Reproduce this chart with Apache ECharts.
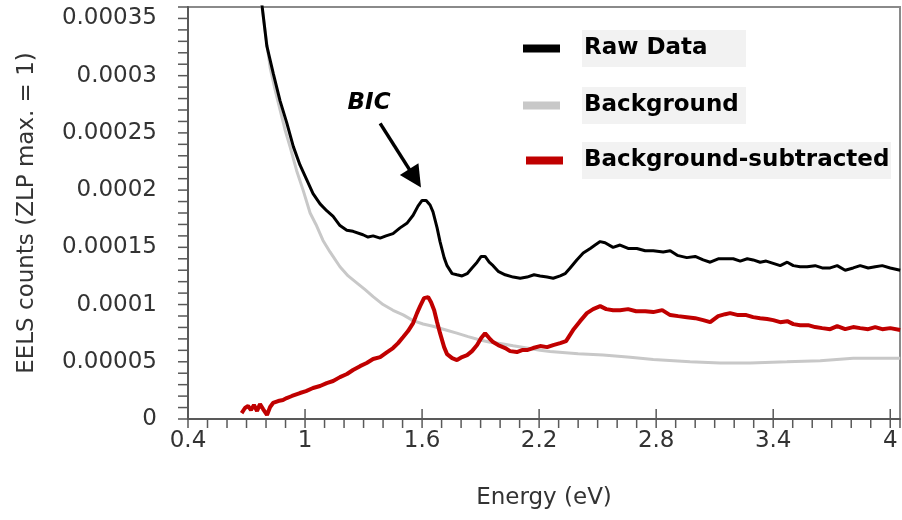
<!DOCTYPE html>
<html>
<head>
<meta charset="utf-8">
<script src="https://cdn.jsdelivr.net/npm/echarts@6.0.0/dist/echarts.min.js"></script>
<style>html,body{margin:0;padding:0;background:#fff;}#c{width:902px;height:520px;}</style>
</head>
<body>
<div id="c"></div>
<script>
// ---- data (energy in eV, counts normalised to ZLP max = 1) ----
const seriesNames = ['Raw Data', 'Background', 'Background-subtracted'];

const rawEnergy = [0.770,0.804,0.837,0.872,0.906,0.940,0.974,1.009,1.041,1.077,1.111,1.144,1.179,1.214,1.246,1.297,1.323,1.349,1.385,1.415,1.451,1.487,1.522,1.554,1.579,1.600,1.621,1.641,1.656,1.677,1.692,1.713,1.728,1.754,1.779,1.805,1.831,1.856,1.882,1.903,1.923,1.944,1.964,1.990,2.026,2.067,2.103,2.138,2.174,2.205,2.241,2.272,2.308,2.333,2.359,2.393,2.426,2.462,2.487,2.513,2.538,2.579,2.615,2.656,2.701,2.744,2.785,2.836,2.872,2.908,2.957,3.000,3.041,3.077,3.118,3.154,3.195,3.231,3.267,3.297,3.333,3.364,3.400,3.436,3.472,3.503,3.538,3.574,3.615,3.651,3.692,3.728,3.769,3.810,3.846,3.887,3.923,3.959,4.000,4.051];
const rawCounts = [37.5e-5,32.6e-5,30.2e-5,27.8e-5,25.9e-5,23.8e-5,22.2e-5,20.9e-5,19.7e-5,18.8e-5,18.2e-5,17.7e-5,16.9e-5,16.5e-5,16.4e-5,16.1e-5,15.9e-5,16.0e-5,15.8e-5,16.0e-5,16.2e-5,16.7e-5,17.1e-5,17.8e-5,18.6e-5,19.1e-5,19.1e-5,18.7e-5,18.1e-5,16.7e-5,15.5e-5,14.1e-5,13.4e-5,12.7e-5,12.6e-5,12.5e-5,12.7e-5,13.2e-5,13.7e-5,14.2e-5,14.2e-5,13.7e-5,13.4e-5,12.9e-5,12.6e-5,12.4e-5,12.3e-5,12.4e-5,12.6e-5,12.5e-5,12.4e-5,12.3e-5,12.5e-5,12.7e-5,13.2e-5,13.9e-5,14.5e-5,14.9e-5,15.2e-5,15.5e-5,15.4e-5,15.0e-5,15.2e-5,14.9e-5,14.9e-5,14.7e-5,14.7e-5,14.6e-5,14.7e-5,14.3e-5,14.1e-5,14.2e-5,13.9e-5,13.7e-5,14.0e-5,14.0e-5,14.0e-5,13.8e-5,14.0e-5,13.9e-5,13.7e-5,13.8e-5,13.6e-5,13.4e-5,13.7e-5,13.4e-5,13.3e-5,13.3e-5,13.4e-5,13.2e-5,13.2e-5,13.4e-5,13.0e-5,13.2e-5,13.4e-5,13.2e-5,13.3e-5,13.4e-5,13.2e-5,13.0e-5];

const bgEnergy = [0.770,0.800,0.821,0.846,0.872,0.897,0.923,0.957,0.990,1.026,1.056,1.092,1.128,1.179,1.221,1.265,1.308,1.349,1.400,1.451,1.503,1.554,1.605,1.656,1.718,1.778,1.836,1.897,1.949,2.000,2.067,2.137,2.205,2.256,2.400,2.528,2.667,2.785,2.974,3.128,3.282,3.470,3.641,3.810,3.949,4.051];
const bgCounts = [37.2e-5,33.3e-5,30.7e-5,28.8e-5,27.0e-5,25.3e-5,23.8e-5,21.7e-5,20.0e-5,18.0e-5,17.0e-5,15.6e-5,14.6e-5,13.3e-5,12.5e-5,11.9e-5,11.3e-5,10.7e-5,10.0e-5,9.5e-5,9.1e-5,8.6e-5,8.3e-5,8.1e-5,7.8e-5,7.5e-5,7.2e-5,6.9e-5,6.7e-5,6.6e-5,6.4e-5,6.2e-5,6.0e-5,5.9e-5,5.7e-5,5.6e-5,5.4e-5,5.2e-5,5.0e-5,4.9e-5,4.9e-5,5.0e-5,5.1e-5,5.3e-5,5.3e-5,5.3e-5];

const subEnergy = [0.675,0.692,0.708,0.723,0.738,0.754,0.769,0.785,0.805,0.821,0.836,0.862,0.887,0.906,0.933,0.974,1.005,1.041,1.077,1.111,1.144,1.179,1.215,1.246,1.282,1.316,1.349,1.385,1.421,1.451,1.477,1.503,1.528,1.554,1.574,1.590,1.610,1.631,1.646,1.662,1.677,1.692,1.713,1.728,1.754,1.779,1.805,1.831,1.856,1.882,1.903,1.923,1.944,1.964,1.990,2.026,2.051,2.086,2.113,2.138,2.169,2.205,2.241,2.272,2.308,2.338,2.374,2.410,2.445,2.477,2.513,2.544,2.579,2.615,2.656,2.697,2.744,2.785,2.831,2.872,2.913,2.957,3.000,3.041,3.077,3.118,3.154,3.179,3.220,3.262,3.297,3.333,3.369,3.400,3.436,3.472,3.503,3.538,3.579,3.615,3.651,3.692,3.728,3.769,3.810,3.846,3.887,3.923,3.959,4.000,4.051];
const subCounts = [0.52e-5,0.96e-5,1.13e-5,0.79e-5,1.22e-5,0.70e-5,1.31e-5,0.87e-5,0.35e-5,1.05e-5,1.40e-5,1.57e-5,1.66e-5,1.83e-5,2.01e-5,2.27e-5,2.44e-5,2.71e-5,2.88e-5,3.14e-5,3.32e-5,3.66e-5,3.93e-5,4.28e-5,4.62e-5,4.89e-5,5.24e-5,5.41e-5,5.85e-5,6.20e-5,6.63e-5,7.16e-5,7.68e-5,8.38e-5,9.25e-5,9.86e-5,10.56e-5,10.65e-5,10.21e-5,9.51e-5,8.46e-5,7.50e-5,6.28e-5,5.67e-5,5.32e-5,5.15e-5,5.41e-5,5.58e-5,5.93e-5,6.46e-5,7.07e-5,7.50e-5,7.07e-5,6.72e-5,6.46e-5,6.20e-5,5.93e-5,5.85e-5,6.02e-5,6.02e-5,6.20e-5,6.37e-5,6.28e-5,6.46e-5,6.63e-5,6.81e-5,7.77e-5,8.55e-5,9.25e-5,9.60e-5,9.86e-5,9.60e-5,9.51e-5,9.51e-5,9.60e-5,9.42e-5,9.42e-5,9.34e-5,9.51e-5,9.08e-5,8.99e-5,8.90e-5,8.81e-5,8.64e-5,8.46e-5,8.99e-5,9.16e-5,9.25e-5,9.08e-5,9.08e-5,8.90e-5,8.81e-5,8.73e-5,8.64e-5,8.46e-5,8.55e-5,8.29e-5,8.20e-5,8.20e-5,8.03e-5,7.94e-5,7.85e-5,8.12e-5,7.85e-5,8.03e-5,7.94e-5,7.85e-5,8.03e-5,7.85e-5,7.94e-5,7.77e-5];

// axis ranges, label steps and tick positions
const xMin = 0.4, xMax = 4.05, xLabelStep = 0.6;
const yMin = 0, yMax = 0.00036, yLabelStep = 0.00005;
const xMinorTicks = [0.4,0.5,0.6,0.7,0.8,0.9,1.0,1.1,1.2,1.3,1.4,1.5,1.6,1.7,1.8,1.9,2.0,2.1,2.2,2.3,2.4,2.5,2.6,2.7,2.8,2.9,3.0,3.1,3.2,3.3,3.4,3.5,3.6,3.7,3.8,3.9,4.0,4.05];
const xMajorTicks = [0.4,1.0,1.6,2.2,2.8,3.4,4.0];
const yTicks = [0e-5,1e-5,2e-5,3e-5,4e-5,5e-5,6e-5,7e-5,8e-5,9e-5,10e-5,11e-5,12e-5,13e-5,14e-5,15e-5,16e-5,17e-5,18e-5,19e-5,20e-5,21e-5,22e-5,23e-5,24e-5,25e-5,26e-5,27e-5,28e-5,29e-5,30e-5,31e-5,32e-5,33e-5,34e-5,35e-5,36e-5];

// annotation (BIC label and arrow), in data coordinates
const bicText = 'BIC';
const bicLabelAt = [1.328, 27.57e-5];
const bicArrowFrom = [1.385, 25.83e-5];
const bicArrowTo = [1.564, 21.03e-5];

// ---- chart ----
const FONT = 'DejaVu Sans';
const AX = '#595959';
const zip = (xs, ys) => xs.map((x, i) => [x, ys[i]]);

const legendBase = (name, left, top, spacer, boxW) => ({
  data: [name], left: left, top: top, orient: 'horizontal', padding: 0,
  itemWidth: 37, itemHeight: 8, icon: 'rect', selectedMode: false,
  formatter: n => '{s| }{t|' + n + '}',
  textStyle: { rich: { s: { width: spacer, fontSize: 10 },
      t: { width: boxW, height: 37, backgroundColor: '#f2f2f2', padding: [0, 0, 0, 2],
           fontFamily: FONT, fontSize: 23, fontWeight: 'bold', color: '#000' } } }
});

const chart = echarts.init(document.getElementById('c'));
chart.setOption({
  animation: false,
  backgroundColor: '#fff',
  grid: { left: 188, top: 7, width: 712, height: 412, show: true,
          borderColor: '#8a8a8a', borderWidth: 2, backgroundColor: 'transparent' },
  legend: [
    legendBase(seriesNames[0], 523, 30, 17, 162),
    legendBase(seriesNames[1], 523, 87, 17, 162),
    legendBase(seriesNames[2], 526, 142, 14, 307)
  ],
  xAxis: {
    type: 'value', min: xMin, max: xMax, interval: xLabelStep,
    axisLine: { show: true, onZero: false, lineStyle: { color: AX, width: 2 } },
    axisTick: { show: false },
    axisLabel: { show: true, margin: 11, fontFamily: FONT, fontSize: 23, color: '#333',
                 showMaxLabel: false, formatter: v => String(+v.toFixed(1)) },
    splitLine: { show: false },
    name: 'Energy (eV)', nameLocation: 'middle', nameGap: 68,
    nameTextStyle: { fontFamily: FONT, fontSize: 23, color: '#333' }
  },
  yAxis: {
    type: 'value', min: yMin, max: yMax, interval: yLabelStep,
    axisLine: { show: true, onZero: false, lineStyle: { color: AX, width: 2 } },
    axisTick: { show: false },
    axisLabel: { show: true, margin: 31, fontFamily: FONT, fontSize: 23, color: '#333',
                 showMaxLabel: false, formatter: v => String(+v.toFixed(5)) },
    splitLine: { show: false },
    name: 'EELS counts (ZLP max. = 1)', nameLocation: 'middle', nameGap: 149,
    nameTextStyle: { fontFamily: FONT, fontSize: 23, color: '#333' }
  },
  series: [
    { name: seriesNames[1], type: 'line', data: zip(bgEnergy, bgCounts), showSymbol: false,
      color: '#c8c8c8', lineStyle: { color: '#c8c8c8', width: 3 }, z: 2, silent: true },
    { name: seriesNames[2], type: 'line', data: zip(subEnergy, subCounts), showSymbol: false,
      color: '#c00000', lineStyle: { color: '#c00000', width: 4 }, z: 3, silent: true },
    { name: seriesNames[0], type: 'line', data: zip(rawEnergy, rawCounts), showSymbol: false,
      color: '#000000', lineStyle: { color: '#000000', width: 3 }, z: 4, silent: true,
      markLine: {
        silent: true, animation: false, symbol: ['none', 'triangle'], symbolSize: 22,
        lineStyle: { color: '#000', width: 3.5, type: 'solid' }, label: { show: false },
        data: [[{ coord: bicArrowFrom }, { coord: bicArrowTo }]]
      },
      markPoint: {
        silent: true, animation: false,
        data: [{ coord: bicLabelAt, symbol: 'circle', symbolSize: 1,
                 itemStyle: { color: 'rgba(0,0,0,0)' },
                 label: { show: true, position: 'inside', formatter: bicText, fontFamily: FONT,
                          fontSize: 23, fontWeight: 'bold', fontStyle: 'italic', color: '#000' } }]
      }
    },
    // x-axis tick marks (minor: outside; major: crossing the axis)
    { name: 'xticks', type: 'custom', silent: true, clip: false, z: 6,
      data: xMinorTicks.map(v => [v, yMin, xMajorTicks.indexOf(v) >= 0 ? 1 : 0]),
      encode: { x: 0, y: 1 },
      renderItem: (params, api) => {
        const p = api.coord([api.value(0), yMin]);
        const up = api.value(2) ? 10 : 0;
        return { type: 'rect', shape: { x: p[0] - 0.75, y: p[1] - up, width: 1.5, height: up + 9 },
                 style: { fill: AX } };
      } },
    // y-axis tick marks (outside)
    { name: 'yticks', type: 'custom', silent: true, clip: false, z: 6,
      data: yTicks.map(v => [xMin, v]),
      encode: { x: 0, y: 1 },
      renderItem: (params, api) => {
        const p = api.coord([xMin, api.value(1)]);
        return { type: 'rect', shape: { x: p[0] - 10, y: p[1] - 0.75, width: 10, height: 1.5 },
                 style: { fill: AX } };
      } }
  ]
});
</script>
</body>
</html>
